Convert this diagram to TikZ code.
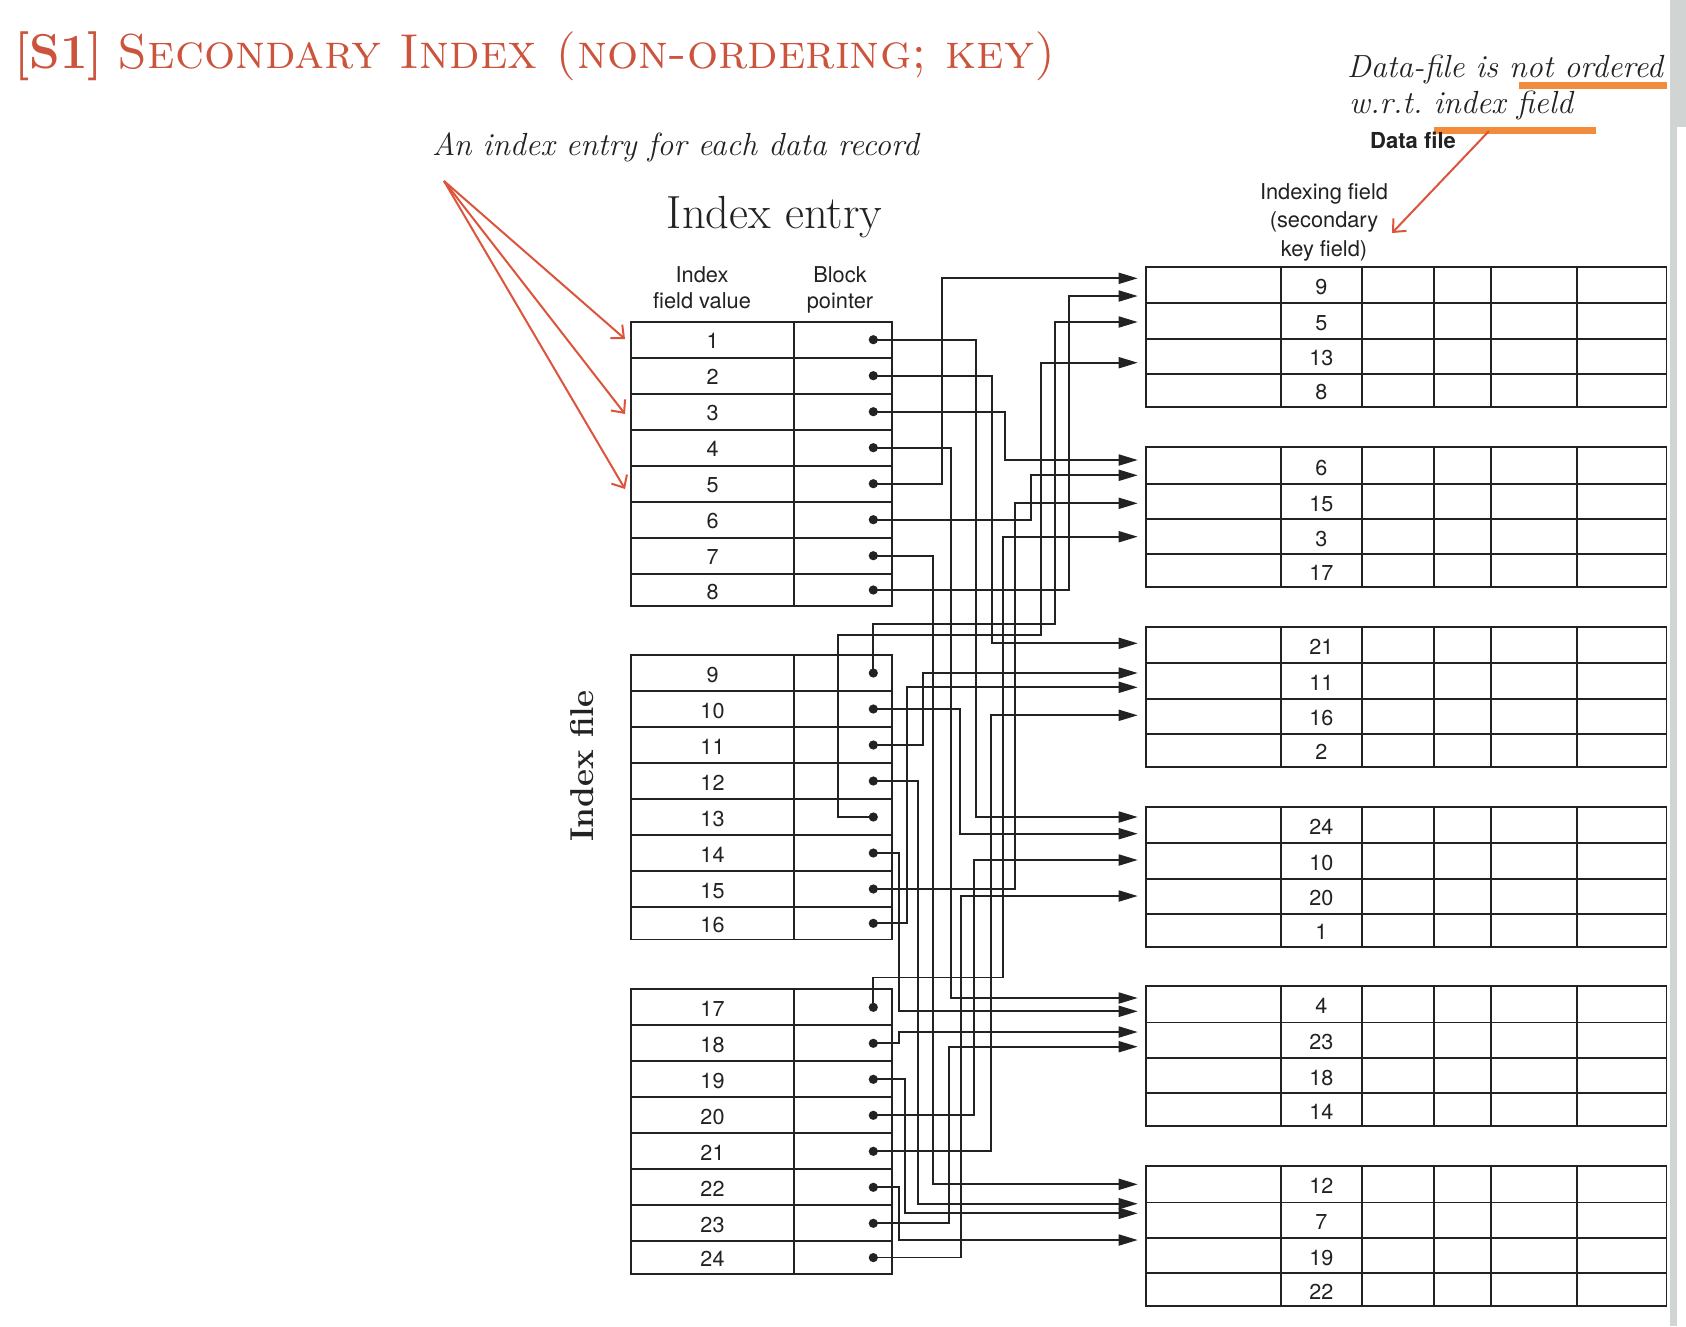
\documentclass[tikz,border=0pt]{standalone}
\usepackage{fontspec}
\usetikzlibrary{arrows.meta}
\newfontfamily\hv{TeX Gyre Heros}
\definecolor{titlered}{RGB}{204,84,60}
\definecolor{notered}{RGB}{221,84,60}
\definecolor{hilite}{RGB}{242,140,58}
\definecolor{ink}{RGB}{34,34,34}
\definecolor{scrollgray}{RGB}{208,212,210}

\begin{document}
\frenchspacing
\begin{tikzpicture}[x=1pt,y=-1pt,
  tablerule/.style={draw=ink,line width=1.8pt},
  link/.style={draw=ink,line width=1.75pt,-{Triangle[length=19pt,width=11pt]}},
  num/.style={font=\hv\fontsize{21.6}{25}\selectfont,text=ink,inner sep=0pt},
  headtxt/.style={font=\hv\fontsize{21.8}{25}\selectfont,text=ink,inner sep=0pt,anchor=base},
  remark/.style={draw=notered,line width=2pt,-{Straight Barb[length=10pt,width=18pt,line width=2pt]}},
  slanted/.style={font=\itshape\fontsize{32}{36}\selectfont,text=ink,inner sep=0pt,anchor=base west},
]
% canvas
\path[use as bounding box,fill=white] (0,0) rectangle (1686,1326);
\fill[scrollgray] (1670,0) rectangle (1686,127);
\fill[scrollgray] (1670,127) rectangle (1677,1326);

% title
\node[anchor=base west,inner sep=0pt,text=titlered,font=\fontsize{49}{58}\selectfont]
  (title) at (14,68.5) {\textbf{[S1]} \textsc{Secondary Index (non-ordering; key)}};

% remarks at the top
\node[slanted] (nota) at (1347,77) {Data-file is not ordered};
\node[slanted] (notb) at (1349,113) {w.r.t. index field};
\fill[hilite] (1519,82.3) rectangle (1667,88.7);
\fill[hilite] (1434,127) rectangle (1596,133.7);
\node[slanted] (each) at (432,155) {An index entry for each data record};

% headings
\node[anchor=base,inner sep=0pt,font=\fontsize{46.5}{52}\selectfont,text=ink] (entry) at (774.5,228) {Index entry};
\node[headtxt] (h1) at (702,282) {Index};
\node[headtxt] (h2) at (702,308) {field value};
\node[headtxt] (h3) at (840,282) {Block};
\node[headtxt] (h4) at (840,308) {pointer};
\node[anchor=base,inner sep=0pt,font=\hv\bfseries\fontsize{22}{25}\selectfont,text=ink] (dfile) at (1413,148) {Data file};
\node[headtxt] (f1) at (1324,199) {Indexing field};
\node[headtxt] (f2) at (1324,227.5) {(secondary};
\node[headtxt] (f3) at (1324,256) {key field)};
\node[rotate=90,anchor=base,inner sep=0pt,font=\bfseries\fontsize{33}{38}\selectfont,text=ink] (ifile) at (593,766) {Index file};

% index file: three blocks of eight entries
\foreach \T [count=\b from 0] in {321.7,655,989.3} {
  \draw[tablerule] (631,\T) rectangle (892.3,{\T+284.5});
  \draw[tablerule] (794,\T) -- (794,{\T+284.5});
  \foreach \o in {36,72,108,144,180,216,252}
    \draw[tablerule] (631,{\T+\o}) -- (892.3,{\T+\o});
  \foreach \r in {0,...,7} {
    \pgfmathsetmacro\yc{\r<7 ? \T+18+36*\r : \T+268.3}
    \pgfmathtruncatemacro\k{8*\b+\r+1}
    \node[num] (k\k) at (712.5,{\yc+1.5}) {\k};
    \coordinate (p\k) at (873.3,\yc);
  }
}

% data file: six blocks of four records
\foreach \D/\ka/\kb/\kc/\kd in {266.7/9/5/13/8, 447.3/6/15/3/17, 626.7/21/11/16/2,
                               806.7/24/10/20/1, 986/4/23/18/14, 1166/12/7/19/22} {
  \draw[tablerule] (1145.7,\D) rectangle (1666.5,{\D+140});
  \foreach \cx in {1280.7,1362.1,1434.2,1490.6,1577.3}
    \draw[tablerule] (\cx,\D) -- (\cx,{\D+140});
  \foreach \o in {36.5,72,107}
    \draw[tablerule] (1145.7,{\D+\o}) -- (1666.5,{\D+\o});
  \node[num] (r\ka) at (1321.4,{\D+20.2}) {\ka};
  \node[num] (r\kb) at (1321.4,{\D+56.2}) {\kb};
  \node[num] (r\kc) at (1321.4,{\D+91.5}) {\kc};
  \node[num] (r\kd) at (1321.4,{\D+125.5}) {\kd};
}

% block pointers: entry / lane / arrival height
\foreach \i/\lx/\ty in {1/975.7/817, 2/992.3/643.3, 3/1005/460, 4/951/998,
    5/942/278.3, 6/1030.7/475.3, 7/932.7/1184.3, 8/1069.3/296,
    10/960/833.7, 11/923.3/673, 12/917.7/1203.7, 14/899/1011.3,
    15/1015.3/503.3, 16/906.7/687.3, 18/899/1032, 19/905.3/1213.3,
    20/974.3/860, 21/990.7/715.3, 22/899/1240, 23/948.7/1046.7, 24/961.3/896} {
  \coordinate (t\i) at (1137.7,\ty);
  \draw[link] (p\i) -| (\lx,\ty) -- (t\i);
}
\coordinate (t9) at (1137.7,322);
\draw[link] (p9) |- (1055,624.3) |- (t9);
\coordinate (t13) at (1137.7,362.7);
\draw[link] (p13) -- (838,817) |- (1041,635) |- (t13);
\coordinate (t17) at (1137.7,536.7);
\draw[link] (p17) |- (1002.7,977.5) |- (t17);

% pointer dots
\foreach \k in {1,...,24}
  \fill[ink] (p\k) circle (4.6);

% red callouts
\coordinate (src) at (444,181);
\coordinate (a1) at (625,339);
\coordinate (a3) at (625,414);
\coordinate (a5) at (625,489);
\draw[remark] (src) -- (a1);
\draw[remark] (src) -- (a3);
\draw[remark] (src) -- (a5);
\coordinate (barpt) at (1489,131);
\coordinate (fieldpt) at (1392,233);
\draw[remark] (barpt) -- (fieldpt);
\end{tikzpicture}
\end{document}
